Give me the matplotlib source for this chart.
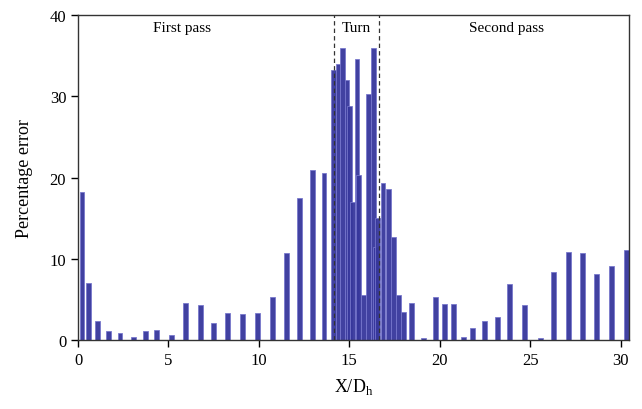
import matplotlib
matplotlib.use("Agg")
import matplotlib.pyplot as plt

# sample locations along the channel and percentage error at each
x_dh = [0.22, 0.57, 1.07, 1.71, 2.32, 3.08, 3.71, 4.35, 5.18, 5.94, 6.75, 7.49,
        8.24, 9.09, 9.9, 10.75, 11.55, 12.23, 12.97, 13.6, 14.13, 14.37, 14.63,
        14.87, 15.02, 15.15, 15.42, 15.5, 15.77, 16.08, 16.34, 16.46, 16.57,
        16.86, 17.17, 17.45, 17.73, 17.97, 18.43, 19.11, 19.76, 20.28, 20.75,
        21.33, 21.82, 22.47, 23.2, 23.85, 24.7, 25.57, 26.27, 27.13, 27.9,
        28.65, 29.48, 30.3]
error = [18.25, 7.0, 2.4, 1.07, 0.86, 0.33, 1.07, 1.3, 0.6, 4.6, 4.3, 2.15,
         3.36, 3.16, 3.32, 5.33, 10.75, 17.5, 20.9, 20.5, 33.2, 34.0, 36.0,
         32.0, 28.8, 17.0, 34.6, 20.3, 5.5, 30.3, 35.9, 11.4, 15.0,
         19.3, 18.6, 12.7, 5.6, 3.4, 4.6, 0.3, 5.3, 4.4, 4.5,
         0.4, 1.5, 2.4, 2.9, 6.85, 4.27, 0.3, 8.37, 10.8, 10.67,
         8.12, 9.1, 11.07]

turn_start = 14.15
turn_end = 16.65
regions = ["First pass", "Turn", "Second pass"]
region_x = [5.75, 15.4, 23.7]

plt.rcParams['font.family'] = ['Liberation Serif', 'DejaVu Serif']

fig = plt.figure(figsize=(6.42, 4.10), dpi=100)
ax = fig.add_axes([0.1215, 0.168, 0.858, 0.793])

ax.bar(x_dh, error, width=0.27, color='#37379c', edgecolor='#7676cc',
       linewidth=0.6, alpha=0.95)

ax.axvline(turn_start, color='#333333', linestyle=(0, (3.5, 2.5)), linewidth=0.9)
ax.axvline(turn_end, color='#333333', linestyle=(0, (3.5, 2.5)), linewidth=0.9)

for name, xp in zip(regions, region_x):
    ax.text(xp, 38.4, name, ha='center', va='center', fontsize=11)

ax.set_xlim(0, 30.45)
ax.set_ylim(0, 40)
ax.set_xticks([0, 5, 10, 15, 20, 25, 30])
ax.set_yticks([0, 10, 20, 30, 40])
ax.tick_params(direction='out', length=5, width=1, labelsize=12)
ax.set_xlabel('X/D$_\\mathregular{h}$', fontsize=13, labelpad=6)
ax.set_ylabel('Percentage error', fontsize=13, labelpad=12)
for s in ax.spines.values():
    s.set_color('#333333')
    s.set_linewidth(1.0)

fig.savefig('out.png', dpi=100)
